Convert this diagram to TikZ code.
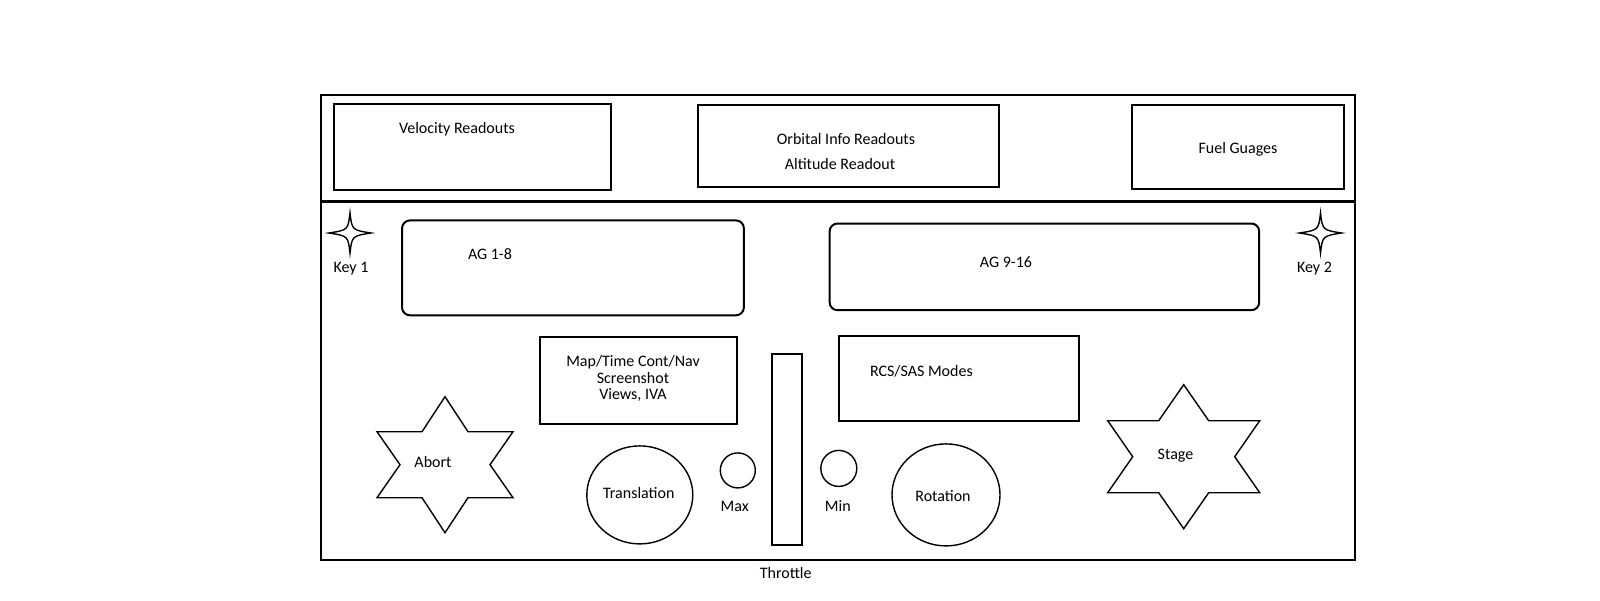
\documentclass[tikz,border=0pt]{standalone}
\usepackage{fontspec}
\setmainfont{Carlito}
\usetikzlibrary{fit,shapes.geometric}
\begin{document}
\begin{tikzpicture}[x=0.5pt,y=-0.5pt,
  frame/.style={draw,line width=1pt,inner sep=0pt},
  boxst/.style={draw,line width=1pt,inner sep=0pt},
  rbox/.style={draw,line width=1pt,inner sep=0pt,rounded corners=4pt},
  thin/.style={draw,line width=0.7pt},
  lbl/.style={inner sep=0pt,font=\fontsize{8pt}{8.35pt}\selectfont}]
\useasboundingbox (0,0) rectangle (1600,600);
% outer frame
\node[frame,fit={(321,95) (1355,560)}] (outer) {};
\coordinate (dl) at (321,201);
\coordinate (dr) at (1355,201);
\draw[line width=1.5pt] (dl) -- (dr);
% top boxes
\node[boxst,fit={(333.7,104.1) (611.2,189.8)}] (vel) {};
\node[lbl] (veltxt) at (457,129.6) {Velocity Readouts};
\node[boxst,fit={(698,105.1) (999,186.7)}] (orb) {};
\node[lbl] (orbtxt1) at (846,138.8) {Orbital Info Readouts};
\node[lbl] (orbtxt2) at (840,164.3) {Altitude Readout};
\node[boxst,fit={(1131.6,105.1) (1343.9,188.8)}] (fuel) {};
\node[lbl] (fueltxt) at (1238,148.9) {Fuel Guages};
% key stars
\draw[thin,shift={(350,233)}] (0,-20) .. controls (2,-3) .. (21,0) .. controls (2,3) .. (0,20) .. controls (-2,3) .. (-21,0) .. controls (-2,-3) .. cycle;
\node[lbl] (key1) at (351,269) {Key 1};
\draw[thin,shift={(1320.5,233)}] (0,-20) .. controls (2,-3) .. (21,0) .. controls (2,3) .. (0,20) .. controls (-2,3) .. (-21,0) .. controls (-2,-3) .. cycle;
\node[lbl] (key2) at (1314.5,269) {Key 2};
% AG boxes
\node[rbox,fit={(402,220.4) (743.9,315.3)}] (ag1) {};
\node[lbl] (ag1txt) at (490,254) {AG 1-8};
\node[rbox,fit={(829.6,223.5) (1259.2,310.2)}] (ag2) {};
\node[lbl] (ag2txt) at (1006,262.2) {AG 9-16};
% map box
\node[boxst,fit={(539.8,336.7) (736.7,423.5)}] (map) {};
\node[lbl,align=center] (maptxt) at (633,378.5) {Map/Time Cont/Nav\\Screenshot\\Views, IVA};
% RCS box
\node[boxst,fit={(838.8,335.7) (1078.6,421.4)}] (rcs) {};
\node[lbl] (rcstxt) at (921.4,371.4) {RCS/SAS Modes};
% throttle
\node[boxst,fit={(772.4,354.1) (802,544.9)}] (thr) {};
\node[lbl] (thrtxt) at (785.7,573.4) {Throttle};
% abort star
\draw[thin,shift={(445,464.7)}] (0,-68) -- (23,-33) -- (68,-33) -- (45,0) -- (68,33) -- (23,33) -- (0,68) -- (-23,33) -- (-68,33) -- (-45,0) -- (-68,-33) -- (-23,-33) -- cycle;
\node[lbl] (abort) at (433,462.2) {Abort};
% stage star
\draw[thin,shift={(1183.7,456.7)}] (0,-72) -- (25,-36) -- (76,-36) -- (51,0) -- (76,36) -- (25,36) -- (0,72) -- (-25,36) -- (-76,36) -- (-51,0) -- (-76,-36) -- (-25,-36) -- cycle;
\node[lbl] (stage) at (1175.5,456) {Stage};
% ellipses and circles
\node[thin,ellipse,minimum width=53pt,minimum height=49pt,inner sep=0pt] (trans) at (639.8,494.9) {};
\node[lbl] (transtxt) at (638.8,492.9) {Translation};
\node[thin,circle,minimum size=17.5pt,inner sep=0pt] (max) at (737.8,470.4) {};
\node[lbl] (maxtxt) at (734.7,506.1) {Max};
\node[thin,circle,minimum size=18pt,inner sep=0pt] (min) at (838.8,468.4) {};
\node[lbl] (mintxt) at (837.8,506.1) {Min};
\node[thin,ellipse,minimum width=54pt,minimum height=51pt,inner sep=0pt] (rot) at (946,494.9) {};
\node[lbl] (rottxt) at (943,495.9) {Rotation};
\end{tikzpicture}
\end{document}
